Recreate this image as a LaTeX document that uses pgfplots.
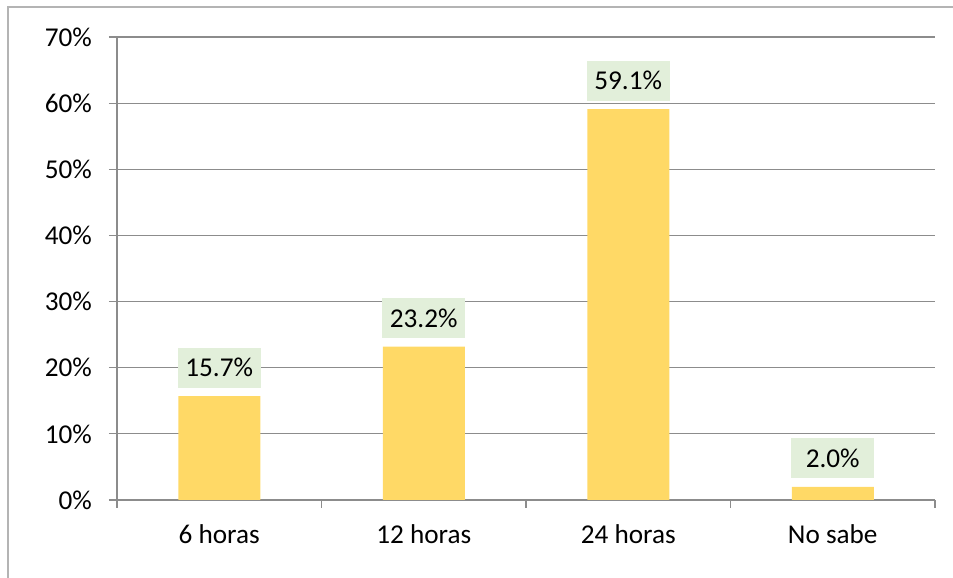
\documentclass[border=0pt]{standalone}
\usepackage{pgfplots}
\pgfplotsset{compat=1.18}
\usepackage{fontspec}
\setmainfont{Carlito}
\definecolor{barfill}{HTML}{FFD966}
\definecolor{lblfill}{HTML}{E2EFDA}
\definecolor{gridgray}{HTML}{8C8C8C}
\definecolor{framegray}{HTML}{B4B4B4}

\begin{document}
\begin{tikzpicture}
\useasboundingbox (0,0) rectangle (476.5pt,289pt);
\draw[framegray, line width=0.6pt] (4pt,0) -- (4pt,285.5pt) -- (476.5pt,285.5pt);
\begin{axis}[
  at={(58.5pt,39pt)}, anchor=south west,
  scale only axis, width=409pt, height=231.5pt,
  xmin=-0.5, xmax=3.5, ymin=0, ymax=70,
  axis x line*=bottom, axis y line*=left,
  axis line style={gridgray, line width=0.6pt},
  xtick={0,1,2,3}, xticklabels={6 horas,12 horas,24 horas,No sabe},
  major x tick style={draw=none},
  minor xtick={-0.5,0.5,1.5,2.5,3.5},
  minor x tick style={gridgray, line width=0.6pt},
  minor tick length=4pt,
  ytick={0,10,20,30,40,50,60,70},
  yticklabels={0\%,10\%,20\%,30\%,40\%,50\%,60\%,70\%},
  major y tick style={gridgray, line width=0.6pt},
  major tick length=4pt, tick align=outside,
  ymajorgrids, grid style={gridgray, line width=0.6pt},
  ticklabel style={font=\fontsize{13.6}{15}\selectfont, text=black},
  xticklabel style={yshift=-5pt},
  yticklabel style={xshift=-5pt},
  clip=false,
]
\addplot[ybar, bar width=41pt, fill=barfill, draw=none,
  point meta=explicit symbolic,
  nodes near coords,
  nodes near coords style={fill=lblfill, font=\fontsize{13.6}{15}\selectfont, text=black,
    minimum width=41.5pt, minimum height=20pt, inner sep=0pt, anchor=south, yshift=4pt},
] coordinates {(0,15.7) [15.7\%] (1,23.2) [23.2\%] (2,59.1) [59.1\%] (3,2.0) [2.0\%]};
\end{axis}
\end{tikzpicture}
\end{document}
